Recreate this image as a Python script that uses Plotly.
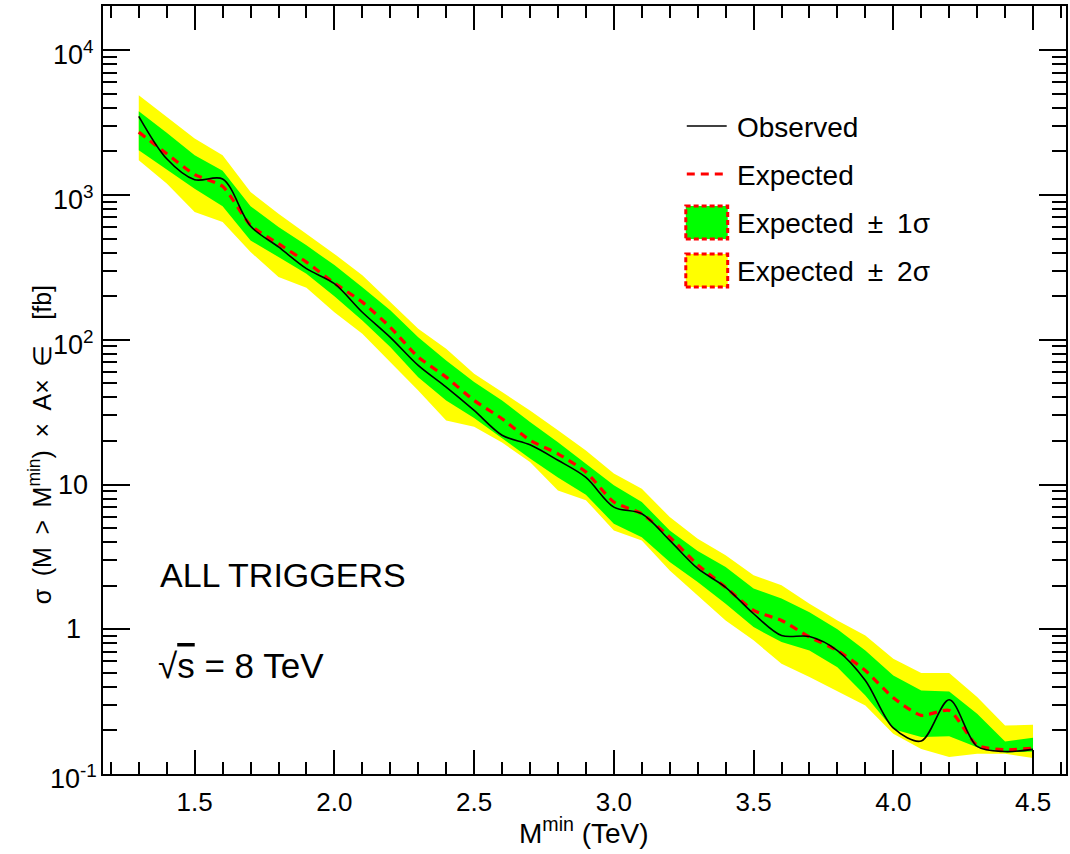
import math
import plotly.graph_objects as go

# ---------------- data ----------------
mass = [1.3, 1.4, 1.5, 1.6, 1.7, 1.8, 1.9, 2.0, 2.1, 2.2, 2.3, 2.4, 2.5, 2.6, 2.7, 2.8, 2.9,
        3.0, 3.1, 3.2, 3.3, 3.4, 3.5, 3.6, 3.7, 3.8, 3.9, 4.0, 4.1, 4.2, 4.3, 4.4, 4.5]

observed = [3500, 1780, 1276, 1291, 610, 438, 310, 244, 155, 104, 66.5, 47.1, 32.5, 21.9, 18.8,
            14.7, 11.2, 6.98, 6.28, 4.11, 2.63, 1.95, 1.28, 0.906, 0.89, 0.713, 0.443, 0.208,
            0.169, 0.326, 0.155, 0.143, 0.148]

expected = [2720, 1930, 1384, 1148, 618, 461, 344, 246, 182, 122, 76, 55.2, 38.1, 28.5, 20.2,
            16.3, 12.2, 7.57, 6.28, 4.33, 2.79, 1.95, 1.35, 1.15, 0.883, 0.713, 0.519, 0.336,
            0.254, 0.275, 0.158, 0.147, 0.151]

plus1 = [3785, 2690, 1880, 1470, 836, 601, 449, 328, 231, 160, 104, 72, 51, 38.1, 27, 19.6,
         13.9, 9.9, 7.57, 4.82, 3.47, 2.69, 1.91, 1.63, 1.31, 1.0, 0.713, 0.48, 0.378, 0.372,
         0.261, 0.168, 0.178]

minus1 = [2040, 1500, 1107, 836, 486, 373, 286, 200, 136, 89, 55, 38.1, 28.8, 20.9, 15.1, 11.2,
          8.5, 5.36, 4.33, 2.91, 2.12, 1.5, 1.035, 0.815, 0.713, 0.547, 0.348, 0.204, 0.18,
          0.182, 0.153, 0.141, 0.143]

plus2 = [4890, 3460, 2455, 1880, 1050, 743, 541, 392, 279, 182, 119, 86.7, 58.3, 43.6, 32.5,
         23.7, 17.2, 11.9, 9.35, 5.96, 4.22, 3.24, 2.36, 2.01, 1.5, 1.15, 0.906, 0.625, 0.498,
         0.498, 0.34, 0.216, 0.219]

minus2 = [1740, 1200, 764, 650, 404, 271, 229, 155, 110, 70, 44.7, 27.7, 25.1, 19.5, 14.3, 9.1,
          7.8, 4.82, 4.11, 2.55, 1.71, 1.15, 0.838, 0.578, 0.467, 0.37, 0.297, 0.19, 0.149,
          0.131, 0.138, 0.138, 0.129]

x_tickvals = [1.5, 2.0, 2.5, 3.0, 3.5, 4.0, 4.5]
x_ticktext = ["1.5", "2.0", "2.5", "3.0", "3.5", "4.0", "4.5"]
y_tickvals = [0.1, 1, 10, 100, 1000, 10000]
y_ticktext = ["10<sup>-1</sup>", "1", "10", "10<sup>2</sup>", "10<sup>3</sup>", "10<sup>4</sup>"]

# ---------------- styling ----------------
FONT = "Liberation Sans, Arial, Helvetica, sans-serif"
YELLOW = "#FFFF00"
GREEN = "#00FF00"
RED = "#FF0000"

W, H = 1070, 854
L, R, T, B = 103, 2, 6, 80
PW, PH = W - L - R, H - T - B


def px(x, y):
    """pixel position -> paper coordinates"""
    return (x - L) / PW, (H - B - y) / PH


fig = go.Figure()

# +-2 sigma band
fig.add_trace(go.Scatter(x=mass, y=minus2, mode="lines", line=dict(width=0, color=YELLOW),
                         hoverinfo="skip"))
fig.add_trace(go.Scatter(x=mass, y=plus2, mode="lines", line=dict(width=0, color=YELLOW),
                         fill="tonexty", fillcolor=YELLOW, hoverinfo="skip"))
# +-1 sigma band
fig.add_trace(go.Scatter(x=mass, y=minus1, mode="lines", line=dict(width=0, color=GREEN),
                         hoverinfo="skip"))
fig.add_trace(go.Scatter(x=mass, y=plus1, mode="lines", line=dict(width=0, color=GREEN),
                         fill="tonexty", fillcolor=GREEN, hoverinfo="skip"))
# expected
fig.add_trace(go.Scatter(x=mass, y=expected, mode="lines",
                         line=dict(color=RED, width=3.2, dash="8px,6px", shape="spline",
                                   smoothing=0.6)))
# observed
fig.add_trace(go.Scatter(x=mass, y=observed, mode="lines",
                         line=dict(color="black", width=1.6, shape="spline", smoothing=0.9)))

x_minor = [round(1.2 + 0.1 * i, 1) for i in range(35)]
x_minor = [v for v in x_minor if v not in x_tickvals]
y_minor = [k * 10.0 ** n for n in range(-1, 4) for k in range(2, 10)]

axis_common = dict(showline=True, linewidth=2, linecolor="black", mirror="allticks",
                   ticks="inside", tickcolor="black", showgrid=False, zeroline=False)

fig.update_xaxes(range=[1.172, 4.618], tickmode="array", tickvals=x_tickvals,
                 ticktext=x_ticktext, ticklen=24, tickwidth=2, ticklabelstandoff=4,
                 tickfont=dict(family=FONT, size=26, color="black"),
                 minor=dict(tickmode="array", tickvals=x_minor, ticks="inside", ticklen=12,
                            tickwidth=1.5, tickcolor="black", showgrid=False),
                 **axis_common)
fig.update_yaxes(type="log", range=[-1, 4.306], tickmode="array", tickvals=y_tickvals,
                 ticktext=y_ticktext, ticklen=27, tickwidth=2, showticklabels=False,
                 minor=dict(tickmode="array", tickvals=y_minor, ticks="inside", ticklen=14,
                            tickwidth=1.5, tickcolor="black", showgrid=False),
                 **axis_common)

annotations = []
shapes = []


def text(x, y, s, size, anchor="left", angle=0, yanchor="middle"):
    ax, ay = px(x, y)
    annotations.append(dict(x=ax, y=ay, xref="paper", yref="paper", text=s, showarrow=False,
                            xanchor=anchor, yanchor=yanchor, textangle=angle,
                            font=dict(family=FONT, size=size, color="black")))


# y tick labels, centred like ROOT does, placed on the log axis
for v, t in zip(y_tickvals, y_ticktext):
    ax, _ = px(73, 0)
    has_sup = "<sup>" in t
    annotations.append(dict(x=ax, y=math.log10(v), xref="paper", yref="y", text=t,
                            showarrow=False, xanchor="center", yanchor="middle",
                            yshift=-3 if has_sup else 0,
                            font=dict(family=FONT, size=27, color="black")))

# axis titles
text(585, 851, "M<sup>min</sup> (TeV)", 28, anchor="center", yanchor="bottom")
EN = "\u2002"
text(40, 445, "σ" + EN + "(M" + EN + ">" + EN + "M<sup>min</sup>)" + EN + "×" + EN + "A×" + EN
     + "∈" + EN + EN + "[fb]", 25, anchor="center", angle=-90)

# labels
text(158, 575, "ALL TRIGGERS", 34)
text(156, 665, "√<span style='text-decoration:overline'>s</span> = 8 TeV", 35)

# legend (hand-built to match the ROOT style)
lx0, lx1 = 688, 728
x0, y0 = px(lx0, 126)
x1, _ = px(lx1, 126)
shapes.append(dict(type="line", xref="paper", yref="paper", x0=x0, x1=x1, y0=y0, y1=y0,
                   line=dict(color="black", width=1.6)))
x0, y0 = px(lx0, 174)
shapes.append(dict(type="line", xref="paper", yref="paper", x0=x0, x1=x1, y0=y0, y1=y0,
                   line=dict(color=RED, width=3.2, dash="8px,6px")))
for (yt, yb, col) in [(206, 239, GREEN), (254, 287, YELLOW)]:
    a0, b0 = px(lx0 - 1, yb)
    a1, b1 = px(lx1 + 1, yt)
    shapes.append(dict(type="rect", xref="paper", yref="paper", x0=a0, x1=a1, y0=b0, y1=b1,
                       fillcolor=col, line=dict(color=RED, width=3, dash="5px,3px")))
text(736, 127, "Observed", 28)
text(736, 176, "Expected", 28)
text(736, 223, "Expected" + EN + "±" + EN + "1σ", 28)
text(736, 271, "Expected" + EN + "±" + EN + "2σ", 28)

fig.update_layout(width=W, height=H, margin=dict(l=L, r=R, t=T, b=B),
                  paper_bgcolor="white", plot_bgcolor="white", showlegend=False,
                  annotations=annotations, shapes=shapes,
                  font=dict(family=FONT, color="black"))

fig.write_html("out.html")
